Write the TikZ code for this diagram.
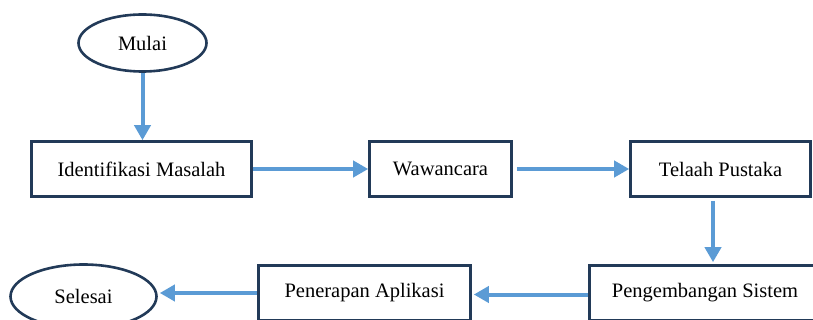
\documentclass[tikz,border=0pt]{standalone}
\usepackage{fontspec}
\setmainfont{Liberation Serif}
\usetikzlibrary{arrows.meta,shapes.geometric}
\definecolor{boxline}{RGB}{34,58,88}
\definecolor{flow}{RGB}{91,155,213}
\tikzset{
  stepbox/.style={draw=boxline,line width=2.6pt,rectangle,inner sep=0pt,
    minimum height=55pt,font=\fontsize{20.5}{24}\selectfont},
  terminal/.style={draw=boxline,line width=2.6pt,ellipse,inner sep=0pt,
    font=\fontsize{20.5}{24}\selectfont},
  flowarrow/.style={draw=flow,line width=4pt,
    -{Triangle[length=15pt,width=16pt]}}
}
\begin{document}
\begin{tikzpicture}[x=1pt,y=-1pt]
\useasboundingbox (0,0) rectangle (813,320);
% start / end terminals
\node[terminal,minimum width=128pt,minimum height=57pt] (mulai) at (142.5,43) {Mulai};
\node[terminal,minimum width=146pt,minimum height=64pt] (selesai) at (83.5,296.5) {Selesai};
% process steps, top row
\node[stepbox,minimum width=220pt] (ident) at (141.5,169) {Identifikasi Masalah};
\node[stepbox,minimum width=142pt] (waw) at (440.5,169) {Wawancara};
\node[stepbox,minimum width=180pt] (telaah) at (720.5,169) {Telaah Pustaka};
% process steps, bottom row
\node[stepbox,minimum width=231pt] (pengembangan) at (705,293) {Pengembangan Sistem};
\node[stepbox,minimum width=212pt] (penerapan) at (364.5,293) {Penerapan Aplikasi};
% flow
\coordinate (downA) at ([xshift=-7.5pt]telaah.south);
\draw[flowarrow] (mulai.south) -- (mulai.south |- ident.north);
\draw[flowarrow] (ident.east) -- (waw.west);
\draw[flowarrow,shorten <=4pt] (waw.east) -- (telaah.west);
\draw[flowarrow,shorten <=3pt,shorten >=2pt] (downA) -- (downA |- pengembangan.north);
\draw[flowarrow,shorten >=2pt] ([yshift=-1.5pt]pengembangan.west) -- ([yshift=-1.5pt]penerapan.east);
\draw[flowarrow,shorten >=2pt] (penerapan.west) -- (penerapan.west -| selesai.east);
\end{tikzpicture}
\end{document}
